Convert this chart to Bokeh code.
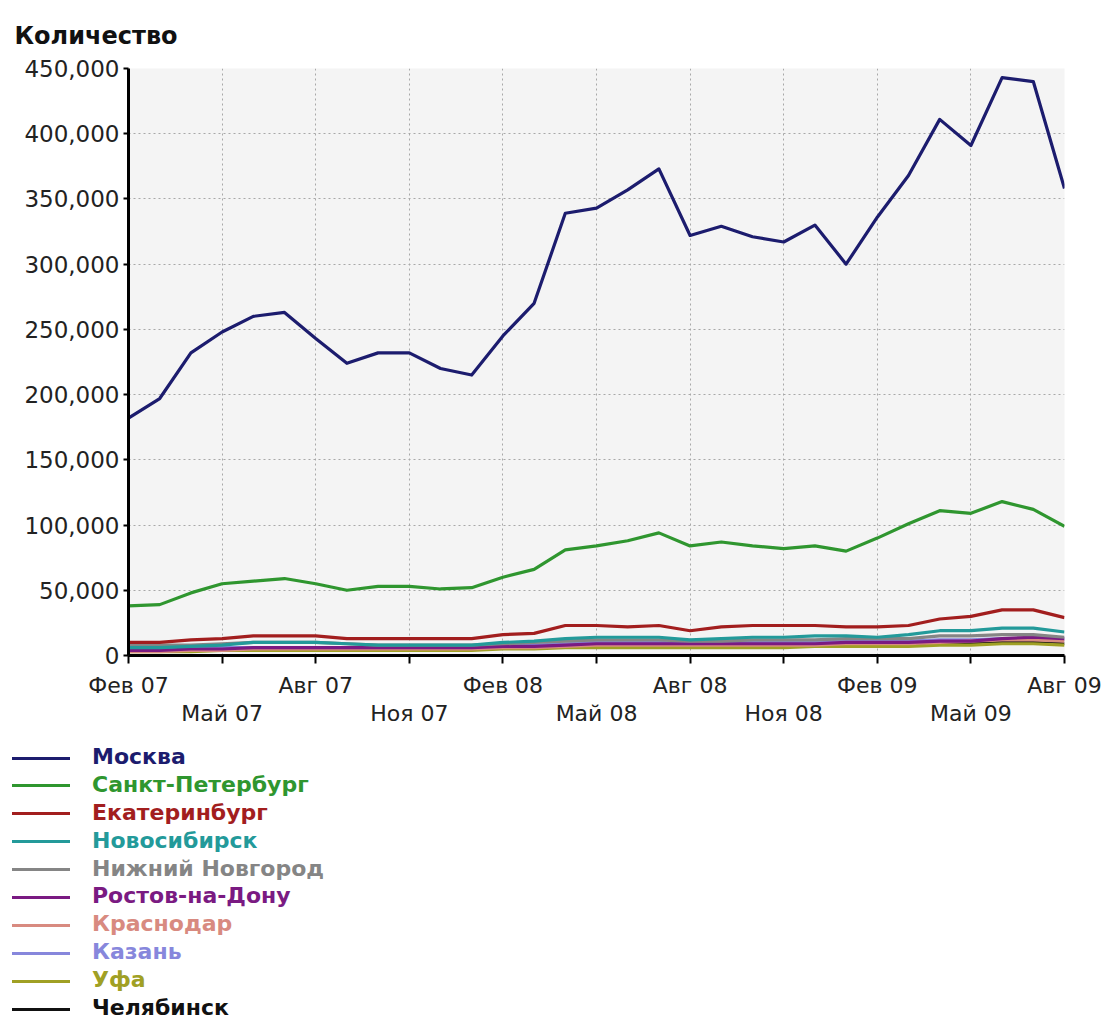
from bokeh.plotting import figure
from bokeh.models import (FixedTicker, NumeralTickFormatter, LinearAxis, Range1d,
                          ColumnDataSource, Div)
from bokeh.layouts import column
from bokeh.embed import file_html
from bokeh.resources import INLINE

# ---- data -------------------------------------------------------------
months = ["Фев 07", "Мар 07", "Апр 07", "Май 07", "Июн 07", "Июл 07", "Авг 07", "Сен 07",
          "Окт 07", "Ноя 07", "Дек 07", "Янв 08", "Фев 08", "Мар 08", "Апр 08", "Май 08",
          "Июн 08", "Июл 08", "Авг 08", "Сен 08", "Окт 08", "Ноя 08", "Дек 08", "Янв 09",
          "Фев 09", "Мар 09", "Апр 09", "Май 09", "Июн 09", "Июл 09", "Авг 09"]

moskva = [182000, 197000, 232000, 248000, 260000, 263000, 243000, 224000, 232000, 232000,
          220000, 215000, 245000, 270000, 339000, 343000, 357000, 373000, 322000, 329000,
          321000, 317000, 330000, 300000, 336000, 368000, 411000, 391000, 443000, 440000, 358000]
spb = [38000, 39000, 48000, 55000, 57000, 59000, 55000, 50000, 53000, 53000,
       51000, 52000, 60000, 66000, 81000, 84000, 88000, 94000, 84000, 87000,
       84000, 82000, 84000, 80000, 90000, 101000, 111000, 109000, 118000, 112000, 99000]
ekb = [10000, 10000, 12000, 13000, 15000, 15000, 15000, 13000, 13000, 13000,
       13000, 13000, 16000, 17000, 23000, 23000, 22000, 23000, 19000, 22000,
       23000, 23000, 23000, 22000, 22000, 23000, 28000, 30000, 35000, 35000, 29000]
novosib = [6000, 6000, 7000, 8000, 10000, 10000, 10000, 9000, 8000, 8000,
           8000, 8000, 10000, 11000, 13000, 14000, 14000, 14000, 12000, 13000,
           14000, 14000, 15000, 15000, 14000, 16000, 19000, 19000, 21000, 21000, 18000]
nnov = [8000, 8000, 8000, 9000, 10000, 10000, 10000, 9000, 8000, 8000,
        8000, 8000, 9000, 10000, 11000, 12000, 12000, 12000, 11000, 11000,
        12000, 12000, 12000, 13000, 13000, 13000, 15000, 15000, 16000, 16000, 14000]
rostov = [4000, 4000, 5000, 5000, 6000, 6000, 6000, 6000, 6000, 6000,
          6000, 6000, 7000, 7000, 8000, 9000, 9000, 9000, 9000, 9000,
          9000, 9000, 9000, 10000, 10000, 10000, 11000, 11000, 13000, 14000, 13000]
krasnodar = [3000, 3000, 4000, 4000, 5000, 5000, 5000, 5000, 5000, 5000,
             5000, 5000, 6000, 6000, 7000, 8000, 8000, 8000, 8000, 8000,
             8000, 8000, 8000, 9000, 9000, 9000, 10000, 11000, 12000, 12000, 11000]
kazan = [5000, 5000, 5000, 6000, 6000, 6000, 6000, 6000, 6000, 6000,
         6000, 6000, 7000, 8000, 9000, 10000, 10000, 10000, 9000, 10000,
         10000, 10000, 10000, 11000, 11000, 11000, 12000, 12000, 13000, 13000, 12000]
ufa = [3000, 3000, 3000, 4000, 4000, 4000, 4000, 4000, 4000, 4000,
       4000, 4000, 5000, 5000, 6000, 6000, 6000, 6000, 6000, 6000,
       6000, 6000, 7000, 7000, 7000, 7000, 8000, 8000, 9000, 9000, 8000]
chelyab = [4000, 4000, 4000, 5000, 5000, 5000, 5000, 5000, 5000, 5000,
           5000, 5000, 6000, 6000, 7000, 7000, 7000, 7000, 7000, 7000,
           7000, 8000, 8000, 8000, 8000, 8000, 9000, 9000, 10000, 10000, 9000]

city_names = ["Москва", "Санкт-Петербург", "Екатеринбург", "Новосибирск", "Нижний Новгород",
              "Ростов-на-Дону", "Краснодар", "Казань", "Уфа", "Челябинск"]
city_values = [moskva, spb, ekb, novosib, nnov, rostov, krasnodar, kazan, ufa, chelyab]
city_colors = ["#1c1c6e", "#2f962f", "#a21e1e", "#239a9a", "#858585",
               "#7a1a82", "#d88a80", "#8787dc", "#a0a024", "#111111"]

y_ticks = [0, 50000, 100000, 150000, 200000, 250000, 300000, 350000, 400000, 450000]
x_idx = list(range(len(months)))
row1_ticks = [0, 6, 12, 18, 24, 30]      # Feb / Aug
row2_ticks = [3, 9, 15, 21, 27]          # May / Nov

FONT = "DejaVu Sans"

# ---- layout constants ---------------------------------------------------
LEFT, TOP, FRAME_W, FRAME_H = 128, 67, 936, 588
W, H = 1104, 730

p = figure(width=W, height=H, x_range=Range1d(0, 30), y_range=Range1d(0, 450000),
           output_backend="svg", toolbar_location=None,
           min_border_left=LEFT, min_border_right=W - LEFT - FRAME_W,
           min_border_top=TOP, min_border_bottom=H - TOP - FRAME_H)
p.background_fill_color = "#f4f4f4"
p.border_fill_color = "white"
p.outline_line_color = None

p.title.text = "Количество"
p.title.text_font = FONT
p.title.text_font_size = "24px"
p.title.text_font_style = "bold"
p.title.text_color = "#111111"
p.title.align = "left"
p.title.offset = -114
p.title.standoff = 38

# y axis
ya = p.yaxis[0]
ya.ticker = FixedTicker(ticks=y_ticks)
ya.formatter = NumeralTickFormatter(format="0,0")
ya.axis_line_width = 3
ya.axis_line_color = "black"
ya.major_tick_out = 5
ya.major_tick_in = 0
ya.major_tick_line_width = 2
ya.minor_tick_line_color = None
ya.major_label_text_font = FONT
ya.major_label_text_font_size = "23px"
ya.major_label_text_color = "#222222"
ya.major_label_standoff = 4

# x axis, first row of labels
xa = p.xaxis[0]
all_ticks = sorted(row1_ticks + row2_ticks)
xa.ticker = FixedTicker(ticks=all_ticks)
xa.major_label_overrides = {t: (months[t] if t in row1_ticks else " ") for t in all_ticks}
xa.axis_line_width = 3
xa.axis_line_color = "black"
xa.major_tick_out = 8
xa.major_tick_in = 0
xa.major_tick_line_width = 2
xa.minor_tick_line_color = None
xa.major_label_text_font = FONT
xa.major_label_text_font_size = "22px"
xa.major_label_text_color = "#222222"
xa.major_label_standoff = 9

# x axis, second row of labels
xb = LinearAxis(ticker=FixedTicker(ticks=row2_ticks),
                major_label_overrides={t: months[t] for t in row2_ticks})
xb.axis_line_color = None
xb.major_tick_line_color = None
xb.major_tick_out = 0
xb.major_tick_in = 0
xb.minor_tick_line_color = None
xb.major_label_text_font = FONT
xb.major_label_text_font_size = "22px"
xb.major_label_text_color = "#222222"
xb.major_label_standoff = 0
p.add_layout(xb, "below")

# grid
p.xgrid.ticker = FixedTicker(ticks=all_ticks)
p.ygrid.ticker = FixedTicker(ticks=y_ticks)
p.grid.grid_line_color = "#a8a8a8"
p.grid.grid_line_dash = "2 3"
p.grid.grid_line_width = 1

for name, vals, col in reversed(list(zip(city_names, city_values, city_colors))):
    src = ColumnDataSource(dict(x=x_idx, y=vals))
    p.line("x", "y", source=src, line_color=col, line_width=3.2, line_join="round")

# ---- legend (HTML block under the chart, one row per city) ---------------
rows = []
for name, col in zip(city_names, city_colors):
    rows.append(
        '<div style="height:27.9px;line-height:27.9px;white-space:nowrap;">'
        '<span style="display:inline-block;width:58px;height:0;border-top:3px solid %s;'
        'vertical-align:middle;margin-left:12px;margin-right:22px;"></span>'
        '<span style="color:%s;">%s</span></div>' % (col, col, name))
legend_html = ('<div style="padding-top:13px;font-family:\'DejaVu Sans\';font-weight:bold;'
               'font-size:22px;">' + "".join(rows) + '</div>')
legend = Div(text=legend_html, width=W, height=292, margin=0)

layout = column(p, legend, spacing=0)
open("out.html", "w").write(file_html(layout, INLINE))
